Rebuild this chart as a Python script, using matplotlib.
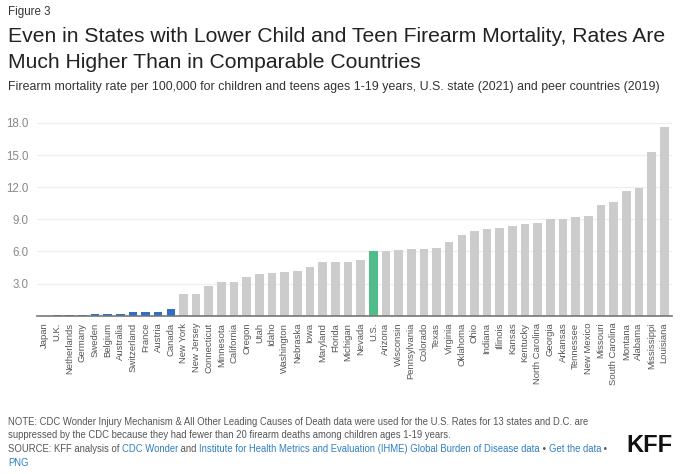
import matplotlib
matplotlib.use('Agg')
import matplotlib.pyplot as plt

plt.rcParams['font.family'] = ['Liberation Sans', 'DejaVu Sans']

# dados
paises = ['Japan', 'U.K.', 'Netherlands', 'Germany', 'Sweden', 'Belgium', 'Australia',
          'Switzerland', 'France', 'Austria', 'Canada']
taxa_paises = [0.0, 0.03, 0.1, 0.1, 0.2, 0.2, 0.2, 0.3, 0.3, 0.3, 0.6]

estados_baixo = ['New York', 'New Jersey', 'Connecticut', 'Minnesota', 'California', 'Oregon',
                 'Utah', 'Idaho', 'Washington', 'Nebraska', 'Iowa', 'Maryland', 'Florida',
                 'Michigan', 'Nevada']
taxa_baixo = [2.0, 2.0, 2.8, 3.1, 3.1, 3.6, 3.9, 4.0, 4.1, 4.2, 4.5, 5.0, 5.0, 5.0, 5.2]

eua = ['U.S.']
taxa_eua = [6.0]

estados_alto = ['Arizona', 'Wisconsin', 'Pennsylvania', 'Colorado', 'Texas', 'Virginia',
                'Oklahoma', 'Ohio', 'Indiana', 'Illinois', 'Kansas', 'Kentucky',
                'North Carolina', 'Georgia', 'Arkansas', 'Tennessee', 'New Mexico', 'Missouri',
                'South Carolina', 'Montana', 'Alabama', 'Mississippi', 'Louisiana']
taxa_alto = [6.0, 6.1, 6.2, 6.2, 6.3, 6.9, 7.5, 7.9, 8.1, 8.2, 8.4, 8.6, 8.7, 9.0, 9.0,
             9.2, 9.3, 10.3, 10.6, 11.6, 11.9, 15.3, 17.6]

yticks = [3.0, 6.0, 9.0, 12.0, 15.0, 18.0]

rotulos = paises + estados_baixo + eua + estados_alto
valores = taxa_paises + taxa_baixo + taxa_eua + taxa_alto
cores = (['#2e6fc4'] * len(paises) + ['#cccccc'] * len(estados_baixo)
         + ['#52bb8a'] * len(eua) + ['#cccccc'] * len(estados_alto))

fig = plt.figure(figsize=(6.8, 4.74), dpi=100)
ax = fig.add_axes([0.054, 0.334, 0.934, 0.418])

x = range(len(rotulos))
ax.bar(x, valores, color=cores, width=0.68, zorder=2)
ax.set_xlim(-0.6, len(rotulos) - 0.4)
ax.set_ylim(0, 18.5)
ax.set_yticks(yticks)
ax.set_yticklabels([f'{v:.1f}' for v in yticks])
ax.set_xticks(list(x))
ax.set_xticklabels(rotulos, rotation=90, va='top', ha='center')
ax.tick_params(axis='both', length=0, labelcolor='#555555')
ax.tick_params(axis='x', pad=5, labelsize=6.8)
ax.tick_params(axis='y', pad=6, labelsize=8.3, labelcolor='#888888')
ax.grid(axis='y', color='#eeeeee', linewidth=0.9, zorder=0)
for lado in ['top', 'right', 'left']:
    ax.spines[lado].set_visible(False)
ax.spines['bottom'].set_color('#777777')
ax.spines['bottom'].set_linewidth(1.2)
ax.spines['bottom'].set_zorder(3)

# títulos
fig.text(8 / 680, 1 - 12 / 474, 'Figure 3', fontsize=8.3, color='#333333', va='center')
fig.text(8 / 680, 1 - 37 / 474,
         'Even in States with Lower Child and Teen Firearm Mortality, Rates Are',
         fontsize=15.2, color='#222222', va='center')
fig.text(8 / 680, 1 - 62 / 474, 'Much Higher Than in Comparable Countries',
         fontsize=15.2, color='#222222', va='center')
fig.text(8 / 680, 1 - 87 / 474,
         'Firearm mortality rate per 100,000 for children and teens ages 1-19 years, '
         'U.S. state (2021) and peer countries (2019)',
         fontsize=8.9, color='#333333', va='center')

# notas
cinza = '#555555'
azul = '#2f7ec1'
tam = 6.85
fig.text(8 / 680, 1 - 422 / 474,
         'NOTE: CDC Wonder Injury Mechanism & All Other Leading Causes of Death data were used '
         'for the U.S. Rates for 13 states and D.C. are',
         fontsize=tam, color=cinza, va='center')
fig.text(8 / 680, 1 - 435.5 / 474,
         'suppressed by the CDC because they had fewer than 20 firearm deaths among children '
         'ages 1-19 years.',
         fontsize=tam, color=cinza, va='center')

partes = [('SOURCE: KFF analysis of ', cinza), ('CDC Wonder', azul), (' and ', cinza),
          ('Institute for Health Metrics and Evaluation (IHME) Global Burden of Disease data', azul),
          (' \u2022 ', cinza), ('Get the data', azul), (' \u2022', cinza)]
fig.canvas.draw()
renderer = fig.canvas.get_renderer()
pos_x = 8
for texto, cor in partes:
    t = fig.text(pos_x / 680, 1 - 449 / 474, texto, fontsize=tam, color=cor, va='center')
    pos_x += t.get_window_extent(renderer).width
fig.text(8 / 680, 1 - 463 / 474, 'PNG', fontsize=tam, color=azul, va='center')

fig.text(672 / 680, 1 - 445 / 474, 'KFF', fontsize=17, fontweight='bold', color='#111111',
         ha='right', va='center')

fig.savefig('out.png', dpi=100)
